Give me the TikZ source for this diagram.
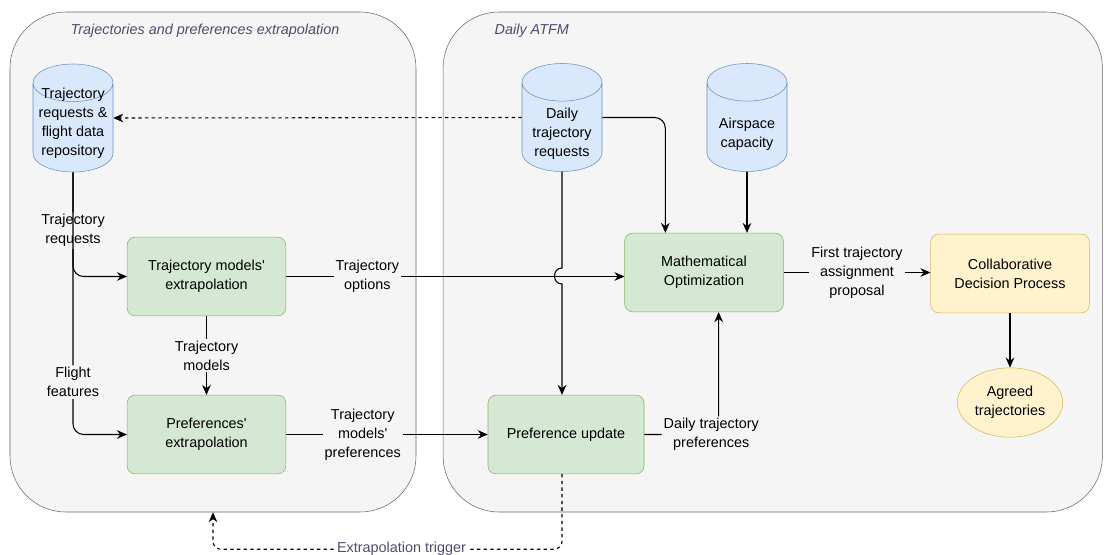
\documentclass[tikz,border=0pt]{standalone}
\usepackage{fontspec}
\setmainfont{Liberation Sans}
\usetikzlibrary{shapes.geometric,arrows.meta,positioning,calc}

\definecolor{groupfill}{HTML}{F5F5F5}
\definecolor{groupline}{HTML}{666666}
\definecolor{titlecol}{HTML}{4D4D70}
\definecolor{bluefill}{HTML}{DAE8FC}
\definecolor{blueline}{HTML}{6C8EBF}
\definecolor{greenfill}{HTML}{D5E8D4}
\definecolor{greenline}{HTML}{82B366}
\definecolor{yellowfill}{HTML}{FFF2CC}
\definecolor{yellowline}{HTML}{D6B656}

\begin{document}
\begin{tikzpicture}[x=0.75pt,y=-0.75pt,
  font=\fontsize{10.8}{14.25}\selectfont,
  group/.style={draw=groupline, fill=groupfill, rounded corners=42pt, minimum height=375pt, minimum width=#1},
  grouptitle/.style={anchor=west, text=titlecol, font=\fontsize{10.8}{14.25}\selectfont\itshape},
  store/.style={cylinder, shape border rotate=90, aspect=0.47, draw=blueline, fill=bluefill, text width=56pt, inner sep=2pt, minimum height=81pt, anchor=shape center},
  storetext/.style={align=center, inner sep=0pt},
  process/.style={draw=greenline, fill=greenfill, rounded corners=6pt, minimum width=119pt, minimum height=59pt, align=center},
  decision/.style={draw=yellowline, fill=yellowfill, rounded corners=6pt, minimum width=119pt, minimum height=59pt, align=center},
  outcome/.style={ellipse, draw=yellowline, fill=yellowfill, minimum width=79pt, minimum height=52pt, inner sep=0pt, align=center},
  lab/.style={fill=groupfill, inner sep=1.5pt, align=center},
  arr/.style={-{Stealth[length=7.5pt,width=6.5pt]}, line width=0.8pt},
  dasharr/.style={arr, dash pattern=on 2.5pt off 2.5pt}]

\useasboundingbox (0,0) rectangle (1104,554);

\node[group=304.5pt] (lc) at (213,262) {};
\node[group=494.5pt] (rc) at (772.75,262) {};
\node[grouptitle] (lctitle) at (66,31) {Trajectories and preferences extrapolation};
\node[grouptitle] (rctitle) at (490,31) {Daily ATFM};

\node[store] (repo) at (73,118) {};
\node[storetext] (repotext) at (73,123.5) {Trajectory\\requests \&\\flight data\\repository};
\node[store] (dtr) at (562,117.5) {};
\node[storetext] (dtrtext) at (562,134) {Daily\\trajectory\\requests};
\node[store] (air) at (747,117.5) {};
\node[storetext] (airtext) at (747,134) {Airspace\\capacity};

\node[process] (tme) at (206.5,276.5) {Trajectory models\textquotesingle\\extrapolation};
\node[process] (pe) at (206.5,434.5) {Preferences\textquotesingle\\extrapolation};
\node[process] (mo) at (704,272.5) {Mathematical\\Optimization};
\node[process, minimum width=117pt] (pu) at (566,434.5) {Preference update};
\node[decision] (cdp) at (1010,273.5) {Collaborative\\Decision Process};
\node[outcome] (agr) at (1010,402.5) {Agreed\\trajectories};

\draw[dasharr] (dtr.shape center -| dtr.west) -- (repo.shape center -| repo.east);
\draw[arr, rounded corners=8pt] (repo.south) |- node[lab, pos=0.28]{Trajectory\\requests} (tme.west);
\draw[arr, rounded corners=8pt] (repo.south) |- node[lab, pos=0.4]{Flight\\features} (pe.west);
\draw[arr] (tme.east) -- node[lab, pos=0.24]{Trajectory\\options} (tme.east -| mo.west);
\draw[arr] (tme.south) -- node[lab]{Trajectory\\models} (pe.north);
\draw[arr] (pe.east) -- node[lab, pos=0.38]{Trajectory\\models\textquotesingle\\preferences} (pu.west);
\draw[arr] (dtr.south) -- (562,268) .. controls (552,268) and (552,284) .. (562,284) -- (dtr.south |- pu.north);
\draw[arr, rounded corners=8pt] (dtr.shape center -| dtr.east) -| ([xshift=-29pt]mo.north);
\draw[arr] (air.south) -- (air.south |- mo.north);
\draw[arr, rounded corners=8pt] (pu.east) -| node[lab, pos=0.45]{Daily trajectory\\preferences} ([xshift=11pt]mo.south);
\draw[arr] (mo.east) -- node[lab]{First trajectory\\assignment\\proposal} (mo.east -| cdp.west);
\draw[arr] (cdp.south) -- (agr.north);

\coordinate (trig) at ($(lc.south)+(0,37)$);
\draw[dasharr, rounded corners=6pt] (dtr.south |- pu.south) |- node[lab, fill=white, text=titlecol, pos=0.73]{Extrapolation trigger} (trig) -- (lc.south);
\end{tikzpicture}
\end{document}
